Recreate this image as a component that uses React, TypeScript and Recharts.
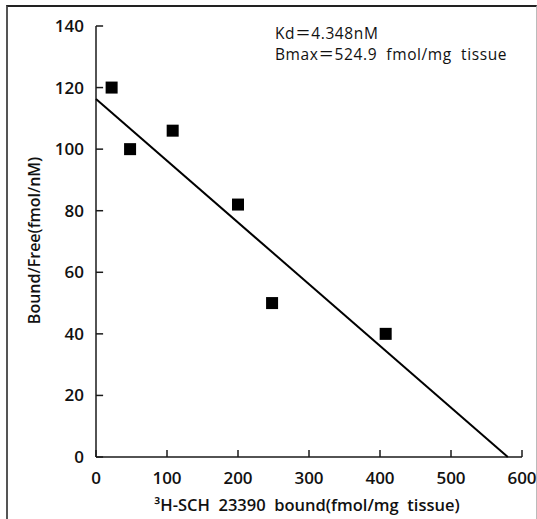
import React from 'react';
import { ScatterChart, Scatter, XAxis, YAxis, ZAxis, Customized, ReferenceLine } from 'recharts';

const boundValues = [22, 48, 108, 200, 248, 408];
const ratioValues = [120, 100, 106, 82, 50, 40];
const fitX = [0, 580];
const fitY = [116.3, 0];
const xTicks = [0, 100, 200, 300, 400, 500, 600];
const yTicks = [0, 20, 40, 60, 80, 100, 120, 140];
const annotationLines = ['Kd＝4.348nM', 'Bmax＝524.9  fmol/mg  tissue'];
const xLabel = '³H-SCH  23390  bound(fmol/mg  tissue)';
const yLabel = 'Bound/Free(fmol/nM)';

const points = boundValues.map((x, i) => ({ x, y: ratioValues[i] }));
const fitLine = fitX.map((x, i) => ({ x, y: fitY[i] }));

const FONT = '"Open Sans", "Noto Sans CJK SC", sans-serif';
const AXIS = '#1a1a1a';
const TICK_LEN = 7;
// inward tick mark lengths expressed in axis units (about 7px each)
const X_TICK_UNITS = 10;
const Y_TICK_UNITS = 2.3;

const YTick = (props: any) => {
  const { x, y, payload } = props;
  return (
    <text x={x - TICK_LEN - 12} y={y + 6} textAnchor="end" fontFamily={FONT} fontSize={17} fontWeight={600} fill="#111">
      {payload.value}
    </text>
  );
};

const XTick = (props: any) => {
  const { x, y, payload } = props;
  return (
    <text x={x} y={y + TICK_LEN + 27} textAnchor="middle" fontFamily={FONT} fontSize={17} fontWeight={600} fill="#111">
      {payload.value}
    </text>
  );
};

const Square = (props: any) => {
  const { cx, cy } = props;
  if (cx == null || cy == null) return <g />;
  return <rect x={cx - 6} y={cy - 6} width={12} height={12} fill="#000" />;
};

const Nothing = () => <g />;

const Annotation = () => (
  <g>
    {annotationLines.map((t, i) => (
      <text
        key={i}
        x={275}
        y={38.5 + i * 21}
        fontFamily={FONT}
        fontSize={15.5}
        fontWeight={500}
        letterSpacing={0.6}
        fill="#111"
        style={{ whiteSpace: 'pre' }}
      >
        {t}
      </text>
    ))}
  </g>
);

const XAxisLabel = (props: any) => {
  const vb = props.viewBox || { x: 96, y: 457, width: 426, height: 62 };
  return (
    <text
      x={vb.x + vb.width / 2 - 2}
      y={vb.y + 54}
      textAnchor="middle"
      fontFamily={FONT}
      fontSize={16.5}
      fontWeight={600}
      fill="#111"
      style={{ whiteSpace: 'pre' }}
    >
      {xLabel}
    </text>
  );
};

const YAxisLabel = (props: any) => {
  const vb = props.viewBox || { x: 0, y: 26, width: 96, height: 431 };
  const cx = 40;
  const cy = vb.y + vb.height / 2 - 1;
  return (
    <text
      x={cx}
      y={cy}
      transform={`rotate(-90, ${cx}, ${cy})`}
      textAnchor="middle"
      fontFamily={FONT}
      fontSize={16}
      fontWeight={600}
      fill="#111"
    >
      {yLabel}
    </text>
  );
};

export default function App() {
  return (
    <div style={{ position: 'absolute', left: 0, top: 0, width: 537, height: 519, background: '#fff', overflow: 'hidden' }}>
      <div
        style={{
          position: 'absolute',
          left: 6,
          top: 5,
          width: 531,
          height: 514,
          boxSizing: 'border-box',
          borderLeft: '2px solid #555',
          borderTop: '2px solid #222',
          borderRight: '1px solid #bbb',
        }}
      />
      <div style={{ position: 'absolute', left: 0, top: 0 }}>
        <ScatterChart width={537} height={519} margin={{ top: 26, right: 15, bottom: 0, left: 0 }}>
          <XAxis
            type="number"
            dataKey="x"
            domain={[0, 600]}
            ticks={xTicks}
            interval={0}
            height={62}
            tickSize={-TICK_LEN}
            tickMargin={0}
            tickLine={false}
            tick={<XTick />}
            axisLine={{ stroke: AXIS, strokeWidth: 1.5 }}
            label={<XAxisLabel />}
          />
          <YAxis
            type="number"
            dataKey="y"
            domain={[0, 140]}
            ticks={yTicks}
            interval={0}
            width={96}
            tickSize={-TICK_LEN}
            tickMargin={0}
            tickLine={false}
            tick={<YTick />}
            axisLine={{ stroke: AXIS, strokeWidth: 1.5 }}
            label={<YAxisLabel />}
          />
          <ZAxis range={[144, 144]} />
          {yTicks.map((v) => (
            <ReferenceLine
              key={`yt${v}`}
              segment={[{ x: 0, y: v }, { x: X_TICK_UNITS, y: v }]}
              stroke={AXIS}
              strokeWidth={1.5}
              ifOverflow="visible"
            />
          ))}
          {xTicks.map((v) => (
            <ReferenceLine
              key={`xt${v}`}
              segment={[{ x: v, y: 0 }, { x: v, y: Y_TICK_UNITS }]}
              stroke={AXIS}
              strokeWidth={1.5}
              ifOverflow="visible"
            />
          ))}
          <Scatter
            data={fitLine}
            line={{ stroke: '#000', strokeWidth: 2 }}
            shape={<Nothing />}
            isAnimationActive={false}
          />
          <Scatter data={points} shape={<Square />} isAnimationActive={false} />
          <Customized component={<Annotation />} />
        </ScatterChart>
      </div>
    </div>
  );
}
